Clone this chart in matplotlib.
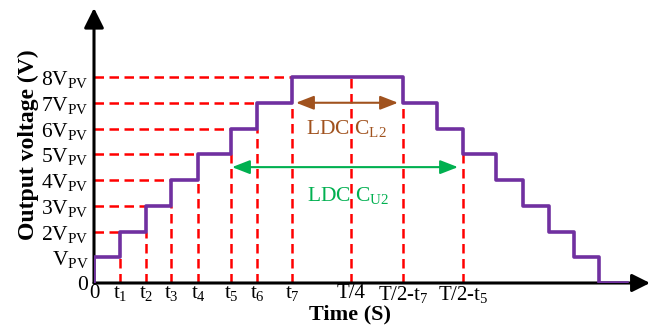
import matplotlib.pyplot as plt
import numpy as np

plt.rcParams['font.family'] = ['Liberation Serif', 'DejaVu Serif']
plt.rcParams['mathtext.fontset'] = 'custom'
plt.rcParams['mathtext.rm'] = 'Liberation Serif'
plt.rcParams['mathtext.it'] = 'Liberation Serif:italic'
plt.rcParams['mathtext.bf'] = 'Liberation Serif:bold'

# switching instants on the rising half (t1..t7)
rise_times = [0.26, 0.52, 0.77, 1.04, 1.37, 1.63, 1.98]
# switching instants on the falling half (8 -> 7, ..., 1 -> 0)
fall_times = [3.09, 3.43, 3.69, 4.02, 4.29, 4.55, 4.80, 5.05]
end_time = 5.33
quarter = 2.57

levels_up = [1, 2, 3, 4, 5, 6, 7, 8]
levels_down = [7, 6, 5, 4, 3, 2, 1, 0]

xtick_pos = [0] + rise_times + [quarter, fall_times[0], fall_times[2]]
xtick_labels = ['0', r'$\mathrm{t_1}$', r'$\mathrm{t_2}$', r'$\mathrm{t_3}$', r'$\mathrm{t_4}$',
                r'$\mathrm{t_5}$', r'$\mathrm{t_6}$', r'$\mathrm{t_7}$', 'T/4',
                r'$\mathrm{T/2\text{-}t_7}$', r'$\mathrm{T/2\text{-}t_5}$']
ytick_pos = [0, 1, 2, 3, 4, 5, 6, 7, 8]
ytick_labels = ['0', r'$\mathrm{V_{PV}}$'] + [r'$\mathrm{%dV_{PV}}$' % k for k in range(2, 9)]

xmax = 5.56
ymax = 10.68

fig = plt.figure(figsize=(6.59, 3.27), dpi=100)
ax = fig.add_axes([94 / 659, 44 / 327, 556 / 659, 275 / 327])
ax.set_xlim(0, xmax)
ax.set_ylim(0, ymax)
for s in ax.spines.values():
    s.set_visible(False)

red = '#FF0000'
dash = (0, (3.8, 2.2))

# horizontal guides from the axis to each rising step
for t, lv in zip(rise_times, levels_up[1:]):
    ax.plot([0, t], [lv, lv], color=red, lw=1.8, ls=dash, zorder=2)
# vertical guides from the axis to the step levels
for t, lv in zip(rise_times, levels_up[:-1]):
    ax.plot([t, t], [0, lv], color=red, lw=1.8, ls=dash, zorder=2)
ax.plot([quarter, quarter], [0, 8], color=red, lw=1.8, ls=dash, zorder=2)
ax.plot([fall_times[0]] * 2, [0, 7], color=red, lw=1.8, ls=dash, zorder=2)
ax.plot([fall_times[2]] * 2, [0, 5], color=red, lw=1.8, ls=dash, zorder=2)

# staircase output voltage
xs = [0, 0] + rise_times + fall_times + [end_time]
ys = [0] + levels_up + levels_down + [0]
ax.step(xs, ys, where='post', color='#7030A0', lw=2.6, zorder=4)

# axes with arrow heads
ax.annotate('', xy=(xmax, 0), xytext=(0, 0), annotation_clip=False,
            arrowprops=dict(arrowstyle='-|>,head_length=0.9,head_width=0.45',
                            mutation_scale=12, color='black', lw=2.2,
                            shrinkA=0, shrinkB=0), zorder=3)
ax.annotate('', xy=(0, ymax), xytext=(0, 0), annotation_clip=False,
            arrowprops=dict(arrowstyle='-|>,head_length=1.0,head_width=0.5',
                            mutation_scale=12, color='black', lw=2.2,
                            shrinkA=0, shrinkB=0), zorder=3)

# LDC ranges
brown = '#A0521E'
green = '#00B050'
ax.annotate('', xy=(2.02, 7), xytext=(3.04, 7),
            arrowprops=dict(arrowstyle='<|-|>,head_length=0.9,head_width=0.35',
                            mutation_scale=12, color=brown, lw=1.5,
                            shrinkA=0, shrinkB=0), zorder=5)
ax.text(2.52, 6.0, r'LDC $\mathrm{C_{L2}}$', color=brown, fontsize=15.5,
        ha='center', va='center')
ax.annotate('', xy=(1.38, 4.5), xytext=(3.64, 4.5),
            arrowprops=dict(arrowstyle='<|-|>,head_length=0.9,head_width=0.35',
                            mutation_scale=12, color=green, lw=1.5,
                            shrinkA=0, shrinkB=0), zorder=5)
ax.text(2.54, 3.4, r'LDC $\mathrm{C_{U2}}$', color=green, fontsize=15.5,
        ha='center', va='center')

ax.set_xticks(xtick_pos, xtick_labels, fontsize=15)
ax.set_yticks(ytick_pos, ytick_labels, fontsize=15.5)
ax.tick_params(axis='both', length=0)
ax.tick_params(axis='x', pad=1)
ax.tick_params(axis='y', pad=4)

ax.set_xlabel('Time (S)', fontsize=16, fontweight='bold', va='center')
ax.xaxis.set_label_coords((350 - 94) / 556, (327 - 314 - 44) / 275)
ax.set_ylabel('Output voltage (V)', fontsize=17, fontweight='bold', va='center')
ax.yaxis.set_label_coords((28 - 94) / 556, (327 - 145 - 44) / 275)

fig.savefig('out.png', dpi=100)
